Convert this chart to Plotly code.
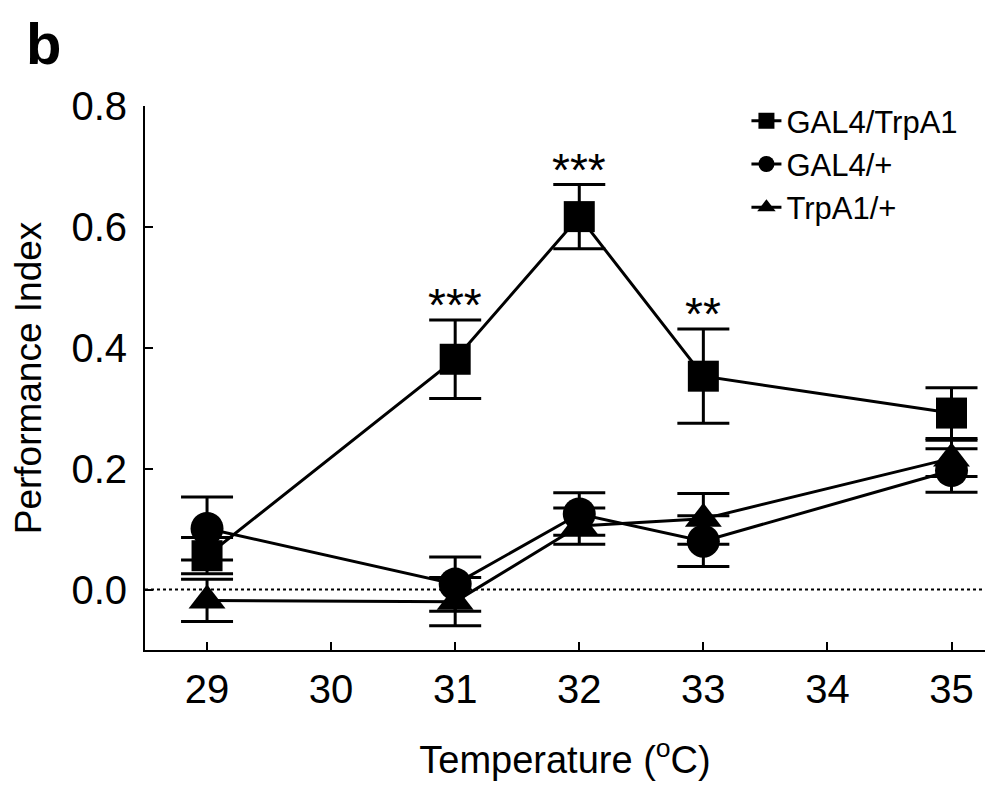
import plotly.graph_objects as go

temps = [29, 31, 32, 33, 35]

gal4_trpa1 = [0.056, 0.381, 0.617, 0.353, 0.292]
gal4_trpa1_err = [0.030, 0.065, 0.053, 0.078, 0.042]

gal4_plus = [0.101, 0.009, 0.125, 0.080, 0.197]
gal4_plus_err = [0.052, 0.045, 0.035, 0.042, 0.036]

trpa1_plus = [-0.018, -0.020, 0.105, 0.117, 0.217]
trpa1_plus_err = [0.035, 0.040, 0.030, 0.042, 0.030]

sig_labels = ["", "***", "***", "**", ""]

FONT = "Arial, Liberation Sans, sans-serif"

fig = go.Figure()

def add(name, y, err, symbol, size, rank):
    fig.add_trace(go.Scatter(
        x=temps, y=y, name=name, mode="lines+markers",
        line=dict(color="black", width=3),
        marker=dict(symbol=symbol, size=size, color="black"),
        error_y=dict(type="data", array=err, visible=True, color="black",
                     thickness=3, width=26),
        legendrank=rank,
    ))

add("GAL4/TrpA1", gal4_trpa1, gal4_trpa1_err, "square", 31, 1)
add("TrpA1/+", trpa1_plus, trpa1_plus_err, "triangle-up", 32, 3)
add("GAL4/+", gal4_plus, gal4_plus_err, "circle", 33, 2)

for t, v, e, s in zip(temps, gal4_trpa1, gal4_trpa1_err, sig_labels):
    if s:
        fig.add_annotation(x=t, y=v + e, text=s, showarrow=False,
                           yanchor="bottom", yshift=-13,
                           font=dict(family=FONT, size=46, color="black"))

fig.add_shape(type="line", xref="paper", x0=0, x1=1, yref="y", y0=0, y1=0,
              line=dict(color="black", width=2, dash="dot"))

fig.add_annotation(xref="paper", yref="paper", x=-0.144, y=1.178,
                   text="<b>b</b>", showarrow=False, xanchor="left", yanchor="top",
                   font=dict(family=FONT, size=58, color="black"))

fig.update_layout(
    width=1000, height=782,
    margin=dict(l=137, r=23, t=98, b=140),
    plot_bgcolor="white", paper_bgcolor="white",
    font=dict(family=FONT, color="black"),
    showlegend=True,
    legend=dict(x=0.716, y=1.022, xanchor="left", yanchor="top",
                font=dict(family=FONT, size=31, color="black"),
                bgcolor="rgba(0,0,0,0)", itemsizing="trace", tracegroupgap=0),
    xaxis=dict(range=[28.5, 35.27], tickvals=[29, 30, 31, 32, 33, 34, 35],
               tickmode="array", showline=True, linecolor="black", linewidth=2,
               ticks="inside", ticklen=8, tickwidth=2, tickcolor="black",
               ticklabelstandoff=3, automargin=False,
               showgrid=False, zeroline=False,
               tickfont=dict(family=FONT, size=40),
               title=dict(text="Temperature (<sup>o</sup>C)",
                          font=dict(family=FONT, size=38), standoff=36)),
    yaxis=dict(range=[-0.1, 0.8], tickvals=[0, 0.2, 0.4, 0.6, 0.8],
               ticktext=["0.0", "0.2", "0.4", "0.6", "0.8"],
               showline=True, linecolor="black", linewidth=2,
               ticks="inside", ticklen=8, tickwidth=2, tickcolor="black",
               ticklabelstandoff=8, automargin=False,
               showgrid=False, zeroline=False,
               tickfont=dict(family=FONT, size=40),
               title=dict(text="Performance Index",
                          font=dict(family=FONT, size=37), standoff=21)),
)

fig.write_html("out.html")
